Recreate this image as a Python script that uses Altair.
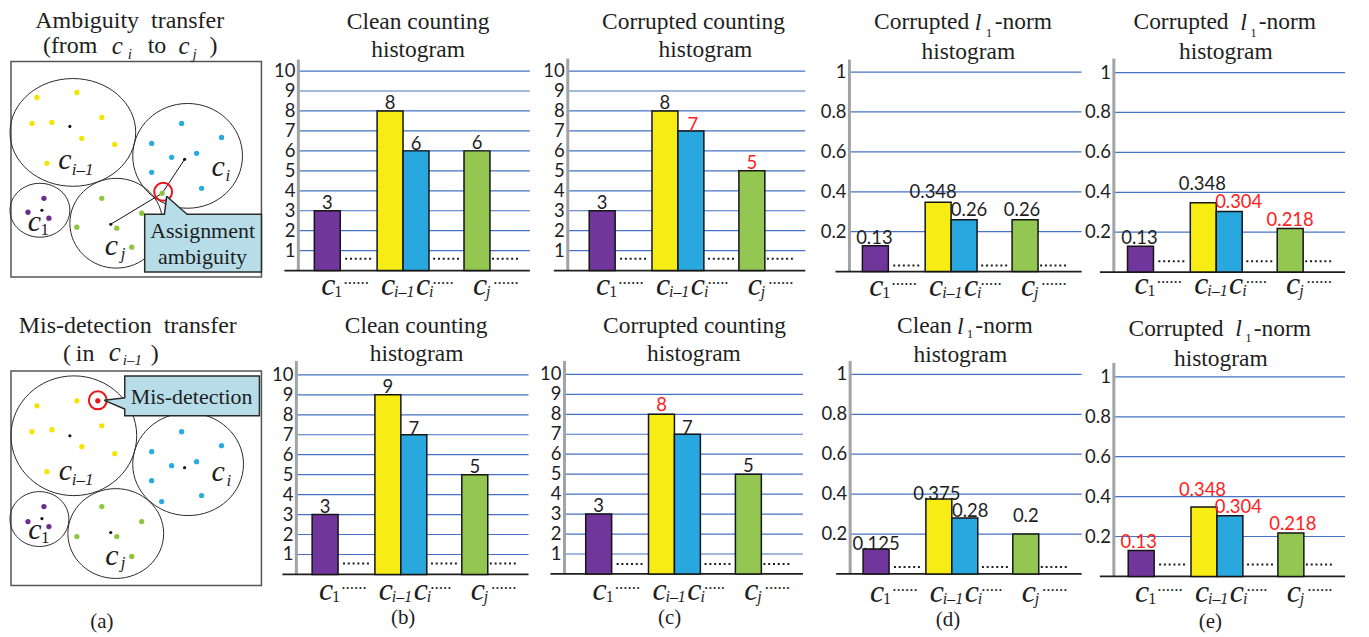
import altair as alt
import pandas as pd

# ===================== chart values =====================
BIN_SUB = ["1", "i\u20131", "i", "j"]            # c_1, c_{i-1}, c_i, c_j
BIN_SUB_ITALIC = [False, True, True, True]
BIN_SLOT = [0.0, 2.42, 3.42, 5.77]               # bin position along x (in bar widths)
GAP_SLOT = [1.19, 4.58, 6.85]                    # omitted bins shown as dots
GAP_TEXT = ["......", ".....", "......"]
BIN_COLOR = ["#70369C", "#F7EC14", "#29A8E0", "#93C752"]

COUNT_TICKS = [1, 2, 3, 4, 5, 6, 7, 8, 9, 10]
COUNT_TICK_TEXT = ["1", "2", "3", "4", "5", "6", "7", "8", "9", "10"]
L1_TICKS = [0.2, 0.4, 0.6, 0.8, 1.0]
L1_TICK_TEXT = ["0.2", "0.4", "0.6", "0.8", "1"]

AMB_CLEAN_COUNT = [3, 8, 6, 6]
AMB_CORR_COUNT = [3, 8, 7, 5]
AMB_CORR_L1_D = [0.13, 0.348, 0.26, 0.26]
AMB_CORR_L1_E = [0.13, 0.348, 0.304, 0.218]
MIS_CLEAN_COUNT = [3, 9, 7, 5]
MIS_CORR_COUNT = [3, 8, 7, 5]
MIS_CLEAN_L1 = [0.125, 0.375, 0.28, 0.2]
MIS_CORR_L1 = [0.13, 0.348, 0.304, 0.218]

AMB_CORR_COUNT_CHANGED = [False, False, True, True]
AMB_CORR_L1_E_CHANGED = [False, False, True, True]
MIS_CORR_COUNT_CHANGED = [False, True, False, False]
MIS_CORR_L1_CHANGED = [True, True, True, True]
NONE_CHANGED = [False, False, False, False]

# diagram (a): feature points, cluster centres and cluster circles (x, y, rx, ry)
AMB_PREV = [(34, 96), (74, 91), (29, 122), (49, 121), (99, 116), (79, 137), (112, 143), (44, 162)]
AMB_CI = [(179, 122), (219, 136), (149, 142), (169, 156), (194, 152), (149, 171), (199, 187)]
AMB_C1 = [(41, 197), (25, 211), (46, 217)]
AMB_CJ = [(99, 197), (139, 212), (74, 226), (114, 227), (129, 246), (159.5, 192)]
AMB_CENTERS = [(67, 125), (182, 158), (39, 209), (108, 223)]
AMB_CIRCLES = [(70, 131, 63, 54), (185, 154.5, 55, 52.5), (37, 209, 30, 27), (113.5, 222, 46.5, 45)]
AMB_PATH = [(108, 223), (159.5, 192), (182, 158)]

MIS_PREV = [(34, 405), (74, 400), (29, 431), (49, 429), (99, 425), (79, 446), (112, 453), (44, 471)]
MIS_POINT = [(95, 400)]
MIS_CI = [(179, 431), (219, 445), (149, 451), (169, 465), (194, 461), (149, 480), (159, 501), (199, 495)]
MIS_C1 = [(41, 506), (25, 521), (46, 526)]
MIS_CJ = [(99, 506), (139, 521), (74, 536), (114, 536), (129, 556)]
MIS_CENTERS = [(67, 435), (182, 467), (39, 518), (108, 532)]
MIS_CIRCLES = [(71, 435, 63, 60), (185.5, 463.5, 55.5, 51.5), (36.5, 518.5, 29.5, 27.5), (113, 533, 48, 45)]

# ===================== styles / layout =====================
SERIF = "Liberation Serif"
SANS = "Lato"
INK = "#1e1e1e"
RED = "#FF1C1C"
GRID = "#4472C4"
SLOT_PX = 26.0
DOT_COL = {"y": "#F2E500", "b": "#29ABE2", "p": "#6B2D8F", "g": "#8CC63F", "r": "#E8161B"}

ROW1 = dict(top=8, h=300)
ROW2 = dict(top=308, h=321)
COLS = [(8, 260), (268, 272), (540, 270), (810, 270), (1080, 281)]

C_DX = [1, -2, 7, 3]
GAP_DX = [-2, -3, 1]


def P(x, y, text, size, italic=False, align="left", font=SERIF, color=INK):
    return dict(x=x, y=y, text=text, size=size, italic=italic, align=align, font=font, color=color)


def text_layers(pieces, xs, ys, xconv, yconv):
    df = pd.DataFrame(pieces)
    df["x"] = df["x"].map(xconv)
    df["y"] = df["y"].map(yconv)
    out = []
    for (it, al, fo), g in df.groupby(["italic", "align", "font"]):
        out.append(
            alt.Chart(g[["x", "y", "text", "size", "color"]].reset_index(drop=True))
            .mark_text(align=al, baseline="alphabetic", font=fo,
                       fontStyle="italic" if it else "normal")
            .encode(
                x=alt.X("x:Q", scale=xs, axis=None),
                y=alt.Y("y:Q", scale=ys, axis=None),
                text="text:N",
                size=alt.Size("size:Q", scale=None),
                color=alt.Color("color:N", scale=None),
            )
        )
    return out


def fmt(v):
    return f"{v:g}"


def bar_panel(col, row, sp, values, changed, ticks, tick_text, titles):
    left, width = COLS[col]
    top, h = row["top"], row["h"]
    ppu, c1, base = sp["ppu"], sp["c1"], sp["base"]

    def X(px):
        return (px - c1) / SLOT_PX

    def Y(py):
        return (base - py) / ppu

    xs = alt.Scale(domain=[X(left), X(left + width)], nice=False, zero=False)
    ys = alt.Scale(domain=[Y(top + h), Y(top)], nice=False, zero=False)
    ex = alt.X("x:Q", scale=xs, axis=None)
    ey = alt.Y("y:Q", scale=ys, axis=None)

    grid = alt.Chart(pd.DataFrame({"y": ticks, "x": X(sp["axis"]), "x2": X(sp["end"])})).mark_rule(
        color=GRID, strokeWidth=1.2).encode(x=ex, x2="x2:Q", y=ey)
    axis_line = alt.Chart(pd.DataFrame({"x": [X(sp["axis"])], "y": [0.0], "y2": [Y(sp["atop"])]})).mark_rule(
        color="#A3A3A3", strokeWidth=3).encode(x=ex, y=ey, y2="y2:Q")
    baseline = alt.Chart(pd.DataFrame({"x": [X(sp["axis"] - 14)], "x2": [X(sp["end"])], "y": [0.0]})).mark_rule(
        color=INK, strokeWidth=1.8).encode(x=ex, x2="x2:Q", y=ey)

    bars = alt.Chart(pd.DataFrame({"slot": BIN_SLOT, "v": values, "col": BIN_COLOR})).transform_calculate(
        x="datum.slot - 0.5", x2="datum.slot + 0.5", y="0").mark_rect(
        stroke="#151515", strokeWidth=1.5).encode(
        x=ex, x2="x2:Q", y=alt.Y("v:Q", scale=ys, axis=None), y2="y:Q",
        color=alt.Color("col:N", scale=None))

    gaps = alt.Chart(pd.DataFrame({"slot": GAP_SLOT, "y": sp["lift"] / ppu})).transform_calculate(
        x="datum.slot - 0.5", x2="datum.slot + 0.5").mark_rule(
        color=INK, strokeWidth=2, strokeDash=[2, 2.8]).encode(x=ex, x2="x2:Q", y=ey)

    tick_lab = alt.Chart(pd.DataFrame({"y": ticks, "t": tick_text, "x": X(sp["axis"])})).mark_text(
        align="right", baseline="middle", dx=-3, font=SANS, fontSize=18.5, color=INK).encode(
        x=ex, y=ey, text="t:N")

    vdf = pd.DataFrame({
        "x": [s + d / SLOT_PX for s, d in zip(BIN_SLOT, sp["ldx"])],
        "y": [v + l / ppu for v, l in zip(values, sp["llift"])],
        "t": [fmt(v) for v in values],
        "col": [RED if c else INK for c in changed],
    })
    val_lab = alt.Chart(vdf).mark_text(
        align="center", baseline="alphabetic", dy=-2, font=SANS, fontSize=18.5).encode(
        x=ex, y=ey, text="t:N", color=alt.Color("col:N", scale=None))

    cb = sp["cbase"]
    pieces = []
    for s, d, sub, it in zip(BIN_SLOT, C_DX, BIN_SUB, BIN_SUB_ITALIC):
        px = c1 + s * SLOT_PX + d
        pieces.append(P(px, cb, "c", 32, italic=True, align="center"))
        pieces.append(P(px + 6, cb + 2, sub, 16, italic=it))
    for g, d, t in zip(GAP_SLOT, GAP_DX, GAP_TEXT):
        pieces.append(P(c1 + g * SLOT_PX + d, cb - 11, t, 17, align="center"))
    pieces += titles

    layers = [grid, axis_line, baseline, bars, gaps, tick_lab, val_lab] + text_layers(pieces, xs, ys, X, Y)
    return alt.layer(*layers).properties(width=width, height=h)


def ellipse_path(k):
    c = 0.5523
    return (f"M -1 0 C -1 {-c*k:.4f} {-c:.4f} {-k:.4f} 0 {-k:.4f} "
            f"C {c:.4f} {-k:.4f} 1 {-c*k:.4f} 1 0 "
            f"C 1 {c*k:.4f} {c:.4f} {k:.4f} 0 {k:.4f} "
            f"C {-c:.4f} {k:.4f} -1 {c*k:.4f} -1 0 Z")


def diagram_panel(row, box, circles, groups, centers, red_ring, links, callout, labels):
    left, width = COLS[0]
    top, h = row["top"], row["h"]
    xs = alt.Scale(domain=[left, left + width], nice=False, zero=False)
    ys = alt.Scale(domain=[top, top + h], reverse=True, nice=False, zero=False)
    ex = alt.X("x:Q", scale=xs, axis=None)
    ey = alt.Y("y:Q", scale=ys, axis=None)
    L = []
    L.append(alt.Chart(pd.DataFrame([box])).mark_rect(fill="white", stroke="#555555", strokeWidth=1.5).encode(
        x=ex, x2="x2:Q", y=ey, y2="y2:Q"))
    cdf = pd.DataFrame({
        "x": [c[0] for c in circles], "y": [c[1] for c in circles],
        "size": [(2 * c[2]) ** 2 for c in circles],
        "shape": [ellipse_path(c[3] / c[2]) for c in circles],
    })
    L.append(alt.Chart(cdf).mark_point(filled=False, color="#2a2a2a", strokeWidth=1, opacity=1).encode(
        x=ex, y=ey, size=alt.Size("size:Q", scale=None), shape=alt.Shape("shape:N", scale=None)))
    if links:
        ldf = pd.DataFrame({"x": [a[0] for a in links[:-1]], "y": [a[1] for a in links[:-1]],
                            "x2": [a[0] for a in links[1:]], "y2": [a[1] for a in links[1:]]})
        L.append(alt.Chart(ldf).mark_rule(color="#111111", strokeWidth=1).encode(
            x=ex, y=ey, x2="x2:Q", y2="y2:Q"))
    rows = []
    for key, pts in groups:
        for (x, y) in pts:
            rows.append({"x": x, "y": y, "col": DOT_COL[key]})
    L.append(alt.Chart(pd.DataFrame(rows)).mark_point(filled=True, shape="circle", size=28, opacity=1,
                                                      strokeWidth=0).encode(
        x=ex, y=ey, color=alt.Color("col:N", scale=None)))
    L.append(alt.Chart(pd.DataFrame({"x": [c[0] for c in centers], "y": [c[1] for c in centers]})).mark_point(
        filled=True, shape="circle", size=10, opacity=1, color="#111111", strokeWidth=0).encode(x=ex, y=ey))
    L.append(alt.Chart(pd.DataFrame([red_ring])).mark_point(
        filled=False, shape="circle", color="#E8161B", strokeWidth=2, opacity=1).encode(
        x=ex, y=ey, size=alt.Size("size:Q", scale=None)))
    # callout
    L.append(alt.Chart(pd.DataFrame([callout["box"]])).mark_rect(
        fill="#B7DDE8", stroke="#2a2a2a", strokeWidth=1.5).encode(x=ex, x2="x2:Q", y=ey, y2="y2:Q"))
    tri = pd.DataFrame(callout["tri"])
    if callout["orient"] == "vertical":
        L.append(alt.Chart(tri).mark_area(orient="vertical", color="#B7DDE8", opacity=1).encode(
            x=ex, y=ey, y2="y2:Q"))
    else:
        L.append(alt.Chart(tri).mark_area(orient="horizontal", color="#B7DDE8", opacity=1).encode(
            y=ey, x=ex, x2="x2:Q"))
    L.append(alt.Chart(pd.DataFrame(callout["edges"])).mark_rule(color="#2a2a2a", strokeWidth=1.5).encode(
        x=ex, y=ey, x2="x2:Q", y2="y2:Q"))
    L += text_layers(labels, xs, ys, lambda v: v, lambda v: v)
    return alt.layer(*L).properties(width=width, height=h)


# ----- diagram panels -----
amb_labels = [
    P(127, 26.5, "Ambiguity\u00a0 transfer", 24, align="center"),
    P(40, 51.5, "(from", 24), P(109, 52.5, "c", 25, italic=True), P(125, 57, "i", 15, italic=True),
    P(145, 51.5, "to", 24), P(176, 52.5, "c", 25, italic=True), P(190, 57, "j", 15, italic=True),
    P(207, 51.5, ")", 24),
    P(62, 168, "c", 30, italic=True, align="center"), P(69, 174, "i\u20131", 17, italic=True),
    P(215.5, 175, "c", 30, italic=True, align="center"), P(223, 180, "i", 17, italic=True),
    P(31.5, 230, "c", 30, italic=True, align="center"), P(37.5, 234, "1", 17),
    P(108.5, 254, "c", 30, italic=True, align="center"), P(118, 258, "j", 17, italic=True),
    P(200, 237, "Assignment", 22, align="center"), P(200, 263, "ambiguity", 22, align="center"),
]
amb = diagram_panel(
    ROW1, dict(x=8, x2=259, y=60, y2=276), AMB_CIRCLES,
    [("y", AMB_PREV), ("b", AMB_CI), ("p", AMB_C1), ("g", AMB_CJ)], AMB_CENTERS,
    dict(x=160.5, y=190.5, size=(2 * 9) ** 2), AMB_PATH,
    dict(box=dict(x=142, x2=259, y=213, y2=271), orient="vertical",
         tri=[dict(x=162.3, y=213, y2=214.6), dict(x=164, y=195, y2=214.6), dict(x=184.5, y=213, y2=214.6)],
         edges=[dict(x=164, y=195, x2=161.7, y2=213.5), dict(x=164, y=195, x2=185, y2=213.5)]),
    amb_labels)

mis_labels = [
    P(125, 332, "Mis-detection\u00a0 transfer", 24, align="center"),
    P(60, 360, "(", 24), P(73, 360, "in", 24), P(106, 360, "c", 27, italic=True),
    P(120, 364, "i\u20131", 15, italic=True), P(148, 360, ")", 24),
    P(62.5, 479, "c", 30, italic=True, align="center"), P(69, 484, "i\u20131", 17, italic=True),
    P(215.5, 480, "c", 30, italic=True, align="center"), P(224, 485, "i", 17, italic=True),
    P(32, 538, "c", 30, italic=True, align="center"), P(38, 542, "1", 17),
    P(109, 565, "c", 30, italic=True, align="center"), P(118, 568, "j", 17, italic=True),
    P(189, 403, "Mis-detection", 22, align="center"),
    P(99, 628, "(a)", 21, align="center"),
]
mis = diagram_panel(
    ROW2, dict(x=8, x2=259, y=370, y2=585), MIS_CIRCLES,
    [("y", MIS_PREV), ("b", MIS_CI), ("p", MIS_C1), ("g", MIS_CJ), ("r", MIS_POINT)], MIS_CENTERS,
    dict(x=95, y=399.5, size=(2 * 9) ** 2), None,
    dict(box=dict(x=122, x2=257, y=375, y2=415), orient="horizontal",
         tri=[dict(y=397, x=122, x2=123.6), dict(y=399.5, x=101.5, x2=123.6), dict(y=408.5, x=122, x2=123.6)],
         edges=[dict(x=101.5, y=399.5, x2=122.5, y2=397), dict(x=101.5, y=399.5, x2=122.5, y2=408.5)]),
    mis_labels)

# ----- bar panels -----
CNT = dict(ppu=20.0)
L1 = dict(ppu=200.0)

sp_b1 = dict(CNT, axis=296, c1=325, end=528, base=269.5, atop=58, lift=12, cbase=294,
             ldx=[0, 0, 0, 0], llift=[0, 0, -1, 0])
sp_c1 = dict(CNT, axis=566, c1=600.5, end=804, base=269.5, atop=57, lift=12, cbase=294,
             ldx=[0, 0, 2, 0], llift=[0, 0, -2, 0])
sp_d1 = dict(L1, axis=848.3, c1=874.3, end=1081, base=270.5, atop=58, lift=6, cbase=295,
             ldx=[-1, -5, 5, -3], llift=[0, 2, 1.5, 1.5])
sp_e1 = dict(L1, axis=1113.3, c1=1140, end=1345, base=271, atop=57, lift=11, cbase=293,
             ldx=[-1, -1, 9.5, 0], llift=[0, 11, 1.5, 0.5])
sp_b2 = dict(CNT, axis=294, c1=322.8, end=526.7, base=574, atop=360, lift=11, cbase=600,
             ldx=[0, 0, 0, 0], llift=[0, 0, -2, 0])
sp_c2 = dict(CNT, axis=562.7, c1=597, end=801.7, base=573.5, atop=360, lift=10, cbase=600,
             ldx=[0, 0, 0, 0], llift=[0, 1.5, -2, 0])
sp_d2 = dict(L1, axis=849, c1=875, end=1081, base=573.5, atop=360, lift=7, cbase=602,
             ldx=[0, -2, 5.5, 0], llift=[-3, -3, -1, 10])
sp_e2 = dict(L1, axis=1113.3, c1=1140.7, end=1345, base=576, atop=362, lift=12, cbase=602,
             ldx=[-2.5, -1.5, 8.5, 2], llift=[0.5, 9.5, 1, 0.5])

T = 23.5
t_b1 = [P(416, 27, "Clean counting", T, align="center"), P(416, 55, "histogram", T, align="center")]
t_c1 = [P(692, 27, "Corrupted counting", T, align="center"), P(704, 55, "histogram", T, align="center")]
t_d1 = [P(873, 27.5, "Corrupted", T), P(974, 28, "l", 24, italic=True), P(985, 35, "1", 13),
        P(994, 27.5, "-norm", T), P(967.5, 57, "histogram", T, align="center")]
t_e1 = [P(1133, 27.5, "Corrupted", T), P(1240, 28, "l", 24, italic=True), P(1250, 35, "1", 13),
        P(1258.5, 27.5, "-norm", T), P(1225.5, 57, "histogram", T, align="center")]
t_b2 = [P(414, 332, "Clean counting", T, align="center"), P(414.5, 360, "histogram", T, align="center"),
        P(401, 624, "(b)", 21, align="center")]
t_c2 = [P(693, 332, "Corrupted counting", T, align="center"), P(692.5, 360, "histogram", T, align="center"),
        P(668, 624, "(c)", 21, align="center")]
t_d2 = [P(896, 332, "Clean", T), P(956, 333, "l", 24, italic=True), P(966, 337.5, "1", 13),
        P(974.5, 332, "-norm", T), P(959.5, 361, "histogram", T, align="center"),
        P(947, 626, "(d)", 21, align="center")]
t_e2 = [P(1128, 335, "Corrupted", T), P(1235, 335.5, "l", 24, italic=True), P(1245, 341, "1", 13),
        P(1253.5, 335, "-norm", T), P(1220.5, 365, "histogram", T, align="center"),
        P(1210, 628, "(e)", 21, align="center")]

panels = [
    amb,
    bar_panel(1, ROW1, sp_b1, AMB_CLEAN_COUNT, NONE_CHANGED, COUNT_TICKS, COUNT_TICK_TEXT, t_b1),
    bar_panel(2, ROW1, sp_c1, AMB_CORR_COUNT, AMB_CORR_COUNT_CHANGED, COUNT_TICKS, COUNT_TICK_TEXT, t_c1),
    bar_panel(3, ROW1, sp_d1, AMB_CORR_L1_D, NONE_CHANGED, L1_TICKS, L1_TICK_TEXT, t_d1),
    bar_panel(4, ROW1, sp_e1, AMB_CORR_L1_E, AMB_CORR_L1_E_CHANGED, L1_TICKS, L1_TICK_TEXT, t_e1),
    mis,
    bar_panel(1, ROW2, sp_b2, MIS_CLEAN_COUNT, NONE_CHANGED, COUNT_TICKS, COUNT_TICK_TEXT, t_b2),
    bar_panel(2, ROW2, sp_c2, MIS_CORR_COUNT, MIS_CORR_COUNT_CHANGED, COUNT_TICKS, COUNT_TICK_TEXT, t_c2),
    bar_panel(3, ROW2, sp_d2, MIS_CLEAN_L1, NONE_CHANGED, L1_TICKS, L1_TICK_TEXT, t_d2),
    bar_panel(4, ROW2, sp_e2, MIS_CORR_L1, MIS_CORR_L1_CHANGED, L1_TICKS, L1_TICK_TEXT, t_e2),
]

chart = alt.concat(*panels, columns=5, spacing=0, bounds="flush", align="each").properties(
    padding=0, background="white").configure_view(stroke=None)

chart.save("out.html", embed_options={"renderer": "svg", "actions": False})
